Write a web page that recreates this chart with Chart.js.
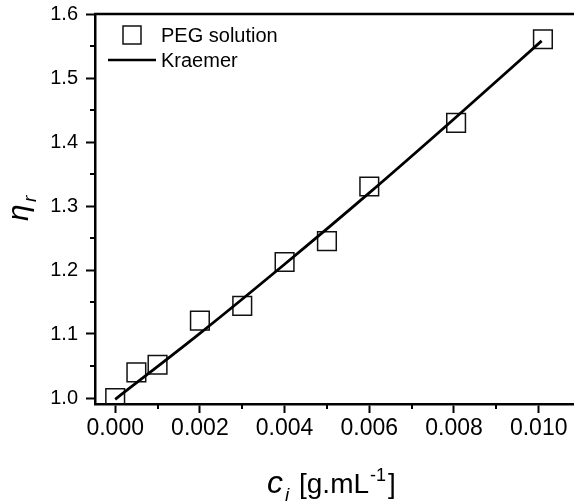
<!DOCTYPE html>
<html>
<head>
<meta charset="utf-8">
<script src="https://cdn.jsdelivr.net/npm/chart.js@4/dist/chart.umd.min.js"></script>
<style>
  html, body { margin: 0; padding: 0; background: #fff; overflow: hidden; }
  #wrap { width: 574px; height: 504px; position: relative; overflow: hidden; }
  canvas { display: block; }
</style>
</head>
<body>
<div id="wrap"><canvas id="c" width="574" height="504" style="width:574px;height:504px"></canvas></div>
<script>
// ---- data ----
const concentration = [0, 0.0005, 0.001, 0.002, 0.003, 0.004, 0.005, 0.006, 0.00805, 0.0101];
const etaR          = [1.0, 1.04, 1.052, 1.121, 1.144, 1.2125, 1.245, 1.3305, 1.430, 1.5605];
const fitC          = [0, 0.002, 0.004, 0.006, 0.008, 0.01007];
const fitEta        = [0.998, 1.101, 1.209, 1.3205, 1.436, 1.558];
const xMajorTicks   = [0, 0.002, 0.004, 0.006, 0.008, 0.010];
const xMinorTicks   = [0.001, 0.003, 0.005, 0.007, 0.009];
const yMajorTicks   = [1.0, 1.1, 1.2, 1.3, 1.4, 1.5, 1.6];
const yMinorTicks   = [1.05, 1.15, 1.25, 1.35, 1.45, 1.55];
const seriesNames   = ['PEG solution', 'Kraemer'];

const FONT = '"Liberation Sans", Arial, Helvetica, sans-serif';

const extras = {
  id: 'extras',
  afterDraw(chart) {
    const ctx = chart.ctx;
    const a = chart.chartArea;
    const xs = chart.scales.x, ys = chart.scales.y;
    ctx.save();
    ctx.strokeStyle = '#000';
    // top frame line
    ctx.lineWidth = 2.5;
    ctx.beginPath();
    ctx.moveTo(a.left - 1, a.top);
    ctx.lineTo(a.right, a.top);
    ctx.stroke();
    // minor ticks
    ctx.lineWidth = 2;
    yMinorTicks.forEach(v => {
      const p = Math.round(ys.getPixelForValue(v));
      ctx.beginPath(); ctx.moveTo(a.left - 5, p); ctx.lineTo(a.left, p); ctx.stroke();
    });
    xMinorTicks.forEach(v => {
      const p = Math.round(xs.getPixelForValue(v));
      ctx.beginPath(); ctx.moveTo(p, a.bottom); ctx.lineTo(p, a.bottom + 5); ctx.stroke();
    });
    // legend
    ctx.lineWidth = 1.5;
    ctx.strokeStyle = '#111';
    ctx.strokeRect(123, 26, 18, 18);
    ctx.lineWidth = 2.5;
    ctx.strokeStyle = '#000';
    ctx.beginPath(); ctx.moveTo(108, 60); ctx.lineTo(156, 60); ctx.stroke();
    ctx.fillStyle = '#000';
    ctx.textBaseline = 'alphabetic';
    ctx.textAlign = 'left';
    ctx.font = '20px ' + FONT;
    ctx.fillText(seriesNames[0], 161, 42);
    ctx.fillText(seriesNames[1], 161, 67);
    // x title: c_i [g.mL^-1]
    ctx.font = 'italic 32px ' + FONT;
    ctx.fillText('c', 267, 493);
    ctx.font = 'italic 19px ' + FONT;
    ctx.fillText('i', 285, 501);
    ctx.font = '28px ' + FONT;
    ctx.fillText('[g.mL', 299, 493);
    let px = 299 + ctx.measureText('[g.mL').width + 1;
    ctx.font = '18px ' + FONT;
    ctx.fillText('-1', px, 481);
    px += ctx.measureText('-1').width + 2;
    ctx.font = '28px ' + FONT;
    ctx.fillText(']', px, 493);
    // y title: eta_r
    ctx.save();
    ctx.translate(28, 221);
    ctx.rotate(-Math.PI / 2);
    ctx.font = 'italic 30px ' + FONT;
    ctx.fillText('η', 0, 0);
    ctx.font = 'italic 19px ' + FONT;
    ctx.fillText('r', 19, 8);
    ctx.restore();
    ctx.restore();
  }
};

new Chart(document.getElementById('c'), {
  type: 'scatter',
  data: {
    datasets: [
      {
        label: seriesNames[1],
        type: 'line',
        data: fitC.map((c, i) => ({ x: c, y: fitEta[i] })),
        borderColor: '#000',
        borderWidth: 2.8,
        pointRadius: 0,
        fill: false,
        cubicInterpolationMode: 'monotone',
        order: 0
      },
      {
        label: seriesNames[0],
        data: concentration.map((c, i) => ({ x: c, y: etaR[i] })),
        pointStyle: 'rect',
        pointRadius: 13.2,
        pointHoverRadius: 13.2,
        borderColor: '#111',
        borderWidth: 1.5,
        backgroundColor: 'rgba(0,0,0,0)',
        clip: { left: 20, top: 20, right: 20, bottom: 0 },
        order: 1
      }
    ]
  },
  options: {
    responsive: false,
    animation: false,
    devicePixelRatio: 1,
    layout: { autoPadding: false, padding: { top: 14, right: 0, left: 0, bottom: 0 } },
    plugins: { legend: { display: false }, tooltip: { enabled: false } },
    scales: {
      x: {
        type: 'linear',
        position: 'bottom',
        min: -0.000477,
        max: 0.010834,
        afterBuildTicks: s => { s.ticks = xMajorTicks.map(v => ({ value: v })); },
        afterFit: s => { s.height = 100; s.paddingLeft = 0; s.paddingRight = 0; },
        grid: { drawOnChartArea: false, drawTicks: true, tickLength: 9, tickWidth: 2, tickColor: '#000' },
        border: { display: true, color: '#000', width: 2.5 },
        ticks: {
          color: '#000',
          padding: 2,
          maxRotation: 0,
          autoSkip: false,
          font: { family: FONT, size: 23 },
          callback: v => Number(v).toFixed(3)
        }
      },
      y: {
        type: 'linear',
        position: 'left',
        min: 0.990625,
        max: 1.6,
        afterBuildTicks: s => { s.ticks = yMajorTicks.map(v => ({ value: v })); },
        afterFit: s => { s.width = 95; s.paddingTop = 0; s.paddingBottom = 0; s.paddingLeft = 0; s.paddingRight = 0; },
        grid: { drawOnChartArea: false, drawTicks: true, tickLength: 9, tickWidth: 2, tickColor: '#000' },
        border: { display: true, color: '#000', width: 2.5 },
        ticks: {
          color: '#000',
          padding: 8,
          autoSkip: false,
          font: { family: FONT, size: 20 },
          callback: v => Number(v).toFixed(1)
        }
      }
    }
  },
  plugins: [extras]
});
</script>
</body>
</html>
